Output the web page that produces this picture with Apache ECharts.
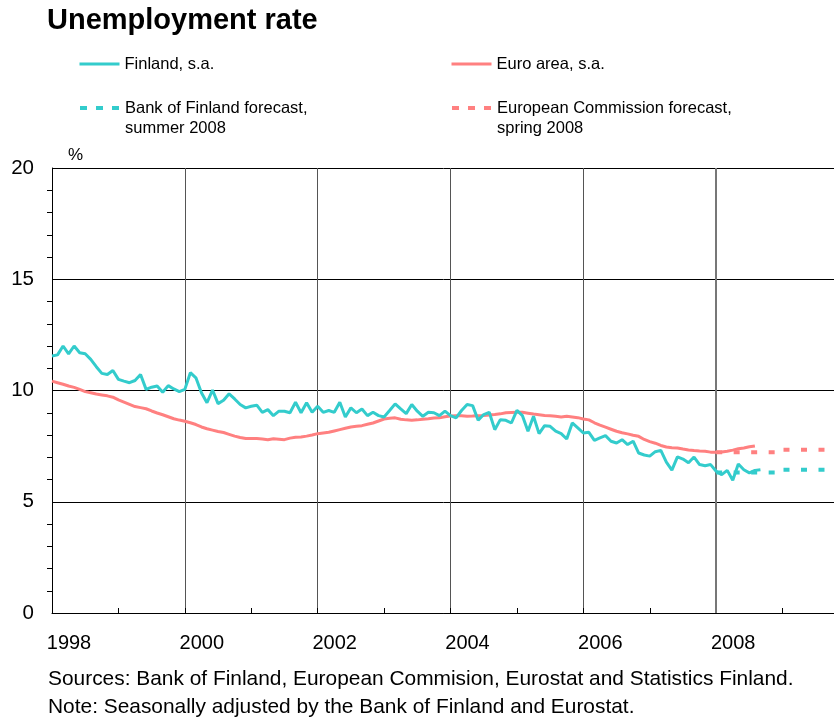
<!DOCTYPE html>
<html>
<head>
<meta charset="utf-8">
<title>Unemployment rate</title>
<script src="https://cdn.jsdelivr.net/npm/echarts@6/dist/echarts.min.js"></script>
<style>
  html, body { margin: 0; padding: 0; background: #fff; }
  #chart { width: 834px; height: 719px; }
</style>
</head>
<body>
<div id="chart"></div>
<script>
// monthly data, first value = January 1998
const startYear = 1998;

const finland = [
  11.55, 11.6, 12.0, 11.65, 12.0, 11.7, 11.65, 11.4, 11.07, 10.77, 10.72, 10.9,
  10.5, 10.42, 10.35, 10.45, 10.72, 10.05, 10.15, 10.2, 9.92, 10.22, 10.07, 9.95,
  10.05, 10.8, 10.57, 9.9, 9.45, 10.02, 9.41, 9.56, 9.85, 9.62, 9.37, 9.22,
  9.29, 9.34, 9.02, 9.14, 8.87, 9.07, 9.07, 9.0, 9.47, 9.0, 9.45, 9.02,
  9.29, 9.02, 9.1, 9.02, 9.47, 8.81, 9.22, 9.0, 9.17, 8.87, 9.02, 8.87,
  8.81, 9.1, 9.4, 9.17, 8.96, 9.37, 9.07, 8.84, 9.02, 9.0, 8.87, 9.07,
  8.87, 8.77, 9.1, 9.37, 9.32, 8.66, 8.92, 9.02, 8.24, 8.69, 8.66, 8.54,
  9.11, 8.87, 8.17, 8.84, 8.06, 8.42, 8.39, 8.17, 8.06, 7.82, 8.54, 8.32,
  8.09, 8.12, 7.76, 7.87, 7.97, 7.72, 7.64, 7.79, 7.57, 7.72, 7.19, 7.1,
  7.05, 7.25, 7.31, 6.78, 6.42, 7.02, 6.92, 6.75, 7.01, 6.67, 6.62, 6.67,
  6.37, 6.22, 6.41, 5.97, 6.7, 6.44, 6.3, 6.41, 6.44
];

const euroArea = [
  10.42, 10.35, 10.28, 10.2, 10.14, 10.05, 9.95, 9.9, 9.84, 9.8, 9.76, 9.7,
  9.58, 9.48, 9.38, 9.28, 9.23, 9.18, 9.08, 8.99, 8.91, 8.82, 8.73, 8.67,
  8.62, 8.55, 8.47, 8.36, 8.28, 8.22, 8.16, 8.11, 8.03, 7.95, 7.89, 7.84,
  7.84, 7.84, 7.82, 7.79, 7.83, 7.81, 7.79, 7.86, 7.9, 7.91, 7.95, 8.0,
  8.06, 8.09, 8.12, 8.18, 8.24, 8.3, 8.36, 8.39, 8.42, 8.48, 8.54, 8.63,
  8.72, 8.75, 8.77, 8.71, 8.68, 8.66, 8.68, 8.71, 8.73, 8.76, 8.77, 8.82,
  8.85, 8.87, 8.86, 8.84, 8.85, 8.87, 8.88, 8.9, 8.92, 8.95, 9.0, 9.01,
  9.02, 9.02, 8.98, 8.94, 8.91, 8.88, 8.87, 8.84, 8.81, 8.84, 8.81, 8.78,
  8.72, 8.68, 8.55, 8.44, 8.35, 8.26, 8.17, 8.1, 8.05, 7.99, 7.94, 7.8,
  7.7, 7.63, 7.53, 7.46, 7.43, 7.42, 7.37, 7.33, 7.3, 7.28, 7.27, 7.23,
  7.22, 7.24, 7.27, 7.32, 7.38, 7.42, 7.47, 7.51
];

// annual forecasts
const forecastYears = [2008, 2009];
const bofForecast = [6.32, 6.44];
const ecForecast = [7.22, 7.34];

// leading blank line keeps the icon level with the first text line
const legendNames = {
  fin: 'Finland, s.a.',
  euro: 'Euro area, s.a.',
  bof: '\nBank of Finland forecast,\nsummer 2008',
  ec: '\nEuropean Commission forecast,\nspring 2008'
};

const TEAL = '#33cccc';
const PINK = '#ff8080';
const FONT = "'Liberation Sans', Arial, sans-serif";

function monthly(values) {
  return values.map((v, i) => [startYear + i / 12, v]);
}

// one flat step per forecast year
function annualSteps(values) {
  const pts = values.map((v, i) => [forecastYears[i], v]);
  pts.push([forecastYears[forecastYears.length - 1] + 1, values[values.length - 1]]);
  return pts;
}

const chart = echarts.init(document.getElementById('chart'));

const legendText = { fontFamily: FONT, fontSize: 16.5, color: '#000', lineHeight: 20 };
const legendBase = {
  padding: 0, itemWidth: 40, itemHeight: 14,
  itemStyle: { opacity: 0 }, textStyle: legendText
};
const solidIcon = { width: 3, type: 'solid' };
const dashIcon = { width: 4, type: [7, 9], cap: 'butt' };

const option = {
  animation: false,
  backgroundColor: '#fff',
  textStyle: { fontFamily: FONT },
  title: {
    text: 'Unemployment rate',
    left: 47,
    top: 6,
    padding: 0,
    textStyle: { fontFamily: FONT, fontSize: 29, fontWeight: 'bold', color: '#000' }
  },
  legend: [
    Object.assign({ data: [legendNames.fin], left: 78, top: 54, lineStyle: solidIcon }, legendBase),
    Object.assign({ data: [legendNames.euro], left: 450, top: 54, lineStyle: solidIcon }, legendBase),
    Object.assign({ data: [legendNames.bof], left: 78, top: 78, lineStyle: dashIcon }, legendBase),
    Object.assign({ data: [legendNames.ec], left: 450, top: 78, lineStyle: dashIcon }, legendBase)
  ],
  grid: {
    left: 52,
    right: -15,
    top: 168,
    bottom: 106,
    containLabel: false,
    outerBoundsMode: 'none'
  },
  xAxis: {
    type: 'value',
    min: 1998,
    max: 2010,
    interval: 2,
    axisLine: { show: true, lineStyle: { color: '#000', width: 1 } },
    axisTick: { show: true, inside: true, length: 5, lineStyle: { color: '#000' } },
    minorTick: { show: true, splitNumber: 2, length: 5, lineStyle: { color: '#000' } },
    splitLine: { show: true, lineStyle: { color: '#555', width: 1 } },
    axisLabel: {
      fontFamily: FONT, fontSize: 20, color: '#000', margin: 20,
      padding: [0, 0, 0, 34],
      formatter: v => String(v)
    }
  },
  yAxis: {
    type: 'value',
    min: 0,
    max: 20,
    interval: 5,
    name: '%',
    nameLocation: 'end',
    nameGap: 13,
    nameTextStyle: {
      fontFamily: FONT, fontSize: 17, color: '#000',
      align: 'left', verticalAlign: 'middle', padding: [0, 0, 0, 16]
    },
    axisLine: { show: true, lineStyle: { color: '#000', width: 1 } },
    axisTick: { show: false },
    minorTick: { show: true, splitNumber: 5, length: 5, lineStyle: { color: '#000' } },
    splitLine: { show: true, lineStyle: { color: '#000', width: 1 } },
    axisLabel: { fontFamily: FONT, fontSize: 20.5, color: '#000', margin: 18 }
  },
  series: [
    {
      name: legendNames.fin,
      type: 'line',
      data: monthly(finland),
      symbol: 'none',
      lineStyle: { color: TEAL, width: 3 },
      itemStyle: { color: TEAL },
      z: 3
    },
    {
      name: legendNames.euro,
      type: 'line',
      data: monthly(euroArea),
      symbol: 'none',
      lineStyle: { color: PINK, width: 3 },
      itemStyle: { color: PINK },
      z: 2
    },
    {
      name: legendNames.bof,
      type: 'line',
      step: 'end',
      data: annualSteps(bofForecast),
      symbol: 'none',
      lineStyle: { color: TEAL, width: 4, type: [6, 11.5], cap: 'butt' },
      itemStyle: { color: TEAL },
      z: 4,
      markLine: {
        silent: true,
        symbol: 'none',
        label: { show: false },
        lineStyle: { color: '#777', width: 2, type: 'solid' },
        data: [{ xAxis: forecastYears[0] }],
        z: 1
      }
    },
    {
      name: legendNames.ec,
      type: 'line',
      step: 'end',
      data: annualSteps(ecForecast),
      symbol: 'none',
      lineStyle: { color: PINK, width: 4, type: [6, 11.5], cap: 'butt' },
      itemStyle: { color: PINK },
      z: 4
    }
  ],
  graphic: [
    {
      type: 'text', left: 48, top: 669,
      style: {
        text: 'Sources: Bank of Finland, European Commision, Eurostat and Statistics Finland.',
        font: "20.9px 'Liberation Sans', Arial, sans-serif", fill: '#000'
      }
    },
    {
      type: 'text', left: 48, top: 697,
      style: {
        text: 'Note: Seasonally adjusted by the Bank of Finland and Eurostat.',
        font: "20.9px 'Liberation Sans', Arial, sans-serif", fill: '#000'
      }
    }
  ]
};

chart.setOption(option);
</script>
</body>
</html>
